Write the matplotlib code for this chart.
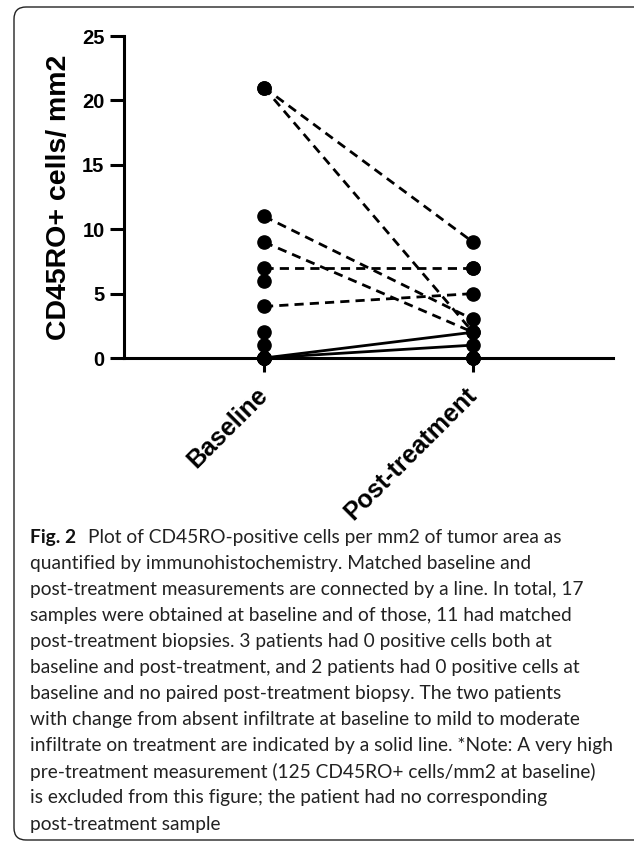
import matplotlib
matplotlib.use("Agg")
import matplotlib.pyplot as plt
from matplotlib.patches import FancyBboxPatch

# ------------------------------------------------------------
# data
# ------------------------------------------------------------
categories = ["Baseline", "Post-treatment"]

# all baseline measurements (distinct dots visible)
baseline_all = [21, 21, 11, 9, 7, 6, 4, 2, 1, 0, 0, 0, 0, 0, 0, 0]
# post-treatment measurements
post_all = [9, 7, 5, 3, 2, 2, 1, 0, 0, 0, 7]

# matched pairs drawn with dashed lines
dashed_pre = [21, 21, 11, 9, 7, 4]
dashed_post = [9, 2, 3, 2, 7, 5]

# matched pairs drawn with solid lines (absent -> infiltrate)
solid_pre = [0, 0]
solid_post = [2, 1]

yticks = [0, 5, 10, 15, 20, 25]

caption_lines = [
    "Plot of CD45RO-positive cells per mm2 of tumor area as",
    "quantified by immunohistochemistry. Matched baseline and",
    "post-treatment measurements are connected by a line. In total, 17",
    "samples were obtained at baseline and of those, 11 had matched",
    "post-treatment biopsies. 3 patients had 0 positive cells both at",
    "baseline and post-treatment, and 2 patients had 0 positive cells at",
    "baseline and no paired post-treatment biopsy. The two patients",
    "with change from absent infiltrate at baseline to mild to moderate",
    "infiltrate on treatment are indicated by a solid line. *Note: A very high",
    "pre-treatment measurement (125 CD45RO+ cells/mm2 at baseline)",
    "is excluded from this figure; the patient had no corresponding",
    "post-treatment sample",
]

# ------------------------------------------------------------
# figure
# ------------------------------------------------------------
W, H = 634, 848
fig = plt.figure(figsize=(W / 100, H / 100), dpi=100)

# rounded frame (right side runs off the page)
frame = FancyBboxPatch(
    (14 / W, 8 / H), 700 / W, 833 / H,
    boxstyle="round,pad=0,rounding_size=0.019",
    mutation_aspect=W / H,
    transform=fig.transFigure,
    facecolor="none", edgecolor="#222222", linewidth=1.0,
)
fig.patches.append(frame)

ax = fig.add_axes([124 / W, 1 - 358 / H, (613 - 124) / W, (358 - 36) / H])

bold = {"family": "Liberation Sans", "weight": "bold"}

for a, b in zip(dashed_pre, dashed_post):
    ax.plot([0, 1], [a, b], color="black", lw=2, ls=(0, (3.3, 2.2)),
            zorder=2, clip_on=False)
for a, b in zip(solid_pre, solid_post):
    ax.plot([0, 1], [a, b], color="black", lw=2, zorder=2, clip_on=False)

ax.plot([0] * len(baseline_all), baseline_all, "o", color="black",
        ms=9.5, zorder=4, clip_on=False)
ax.plot([1] * len(post_all), post_all, "o", color="black",
        ms=9.5, zorder=4, clip_on=False)

ax.set_xlim(-0.67, 1.67)
ax.set_ylim(0, 25)
ax.set_yticks(yticks)
ax.set_yticklabels([str(t) for t in yticks], fontdict=bold, fontsize=14.5)
ax.set_xticks([0, 1])
ax.set_xticklabels(categories, fontdict=bold, fontsize=18,
                   rotation=45, ha="right", va="center",
                   rotation_mode="anchor")

for s in ["top", "right"]:
    ax.spines[s].set_visible(False)
for s in ["left", "bottom"]:
    ax.spines[s].set_linewidth(2.2)
    ax.spines[s].set_zorder(3)

ax.tick_params(axis="y", length=10, width=2.2, pad=4)
ax.tick_params(axis="x", length=10, width=2.2, pad=14)

ax.set_ylabel("CD45RO+ cells/ mm2", fontdict=bold, fontsize=20.5, labelpad=7)

# ------------------------------------------------------------
# caption
# ------------------------------------------------------------
cap_font = "Lato"
cap_size = 13.8
x0 = 30 / W
y_first = 1 - 537 / H
dy = 26.1 / H

fig.canvas.draw()
r = fig.canvas.get_renderer()
t_fig = fig.text(x0, y_first, "Fig. 2", family=cap_font, weight="bold",
                 fontsize=cap_size, va="center", ha="left", color="#111111")
bb = t_fig.get_window_extent(renderer=r)
x_rest = (bb.x1 + 12) / W

for i, line in enumerate(caption_lines):
    xx = x_rest if i == 0 else x0
    fig.text(xx, y_first - i * dy, line, family=cap_font, fontsize=cap_size,
             va="center", ha="left", color="#222222")

fig.savefig("out.png", dpi=100)
